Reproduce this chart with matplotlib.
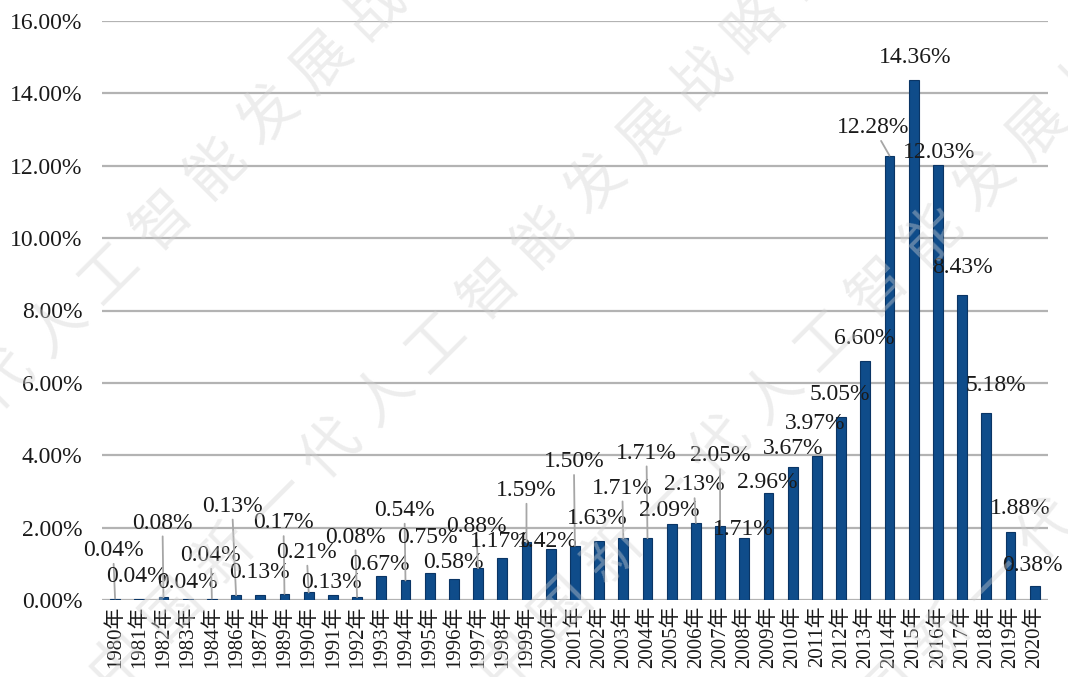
import numpy as np
import matplotlib.pyplot as plt

years = ["1980", "1981", "1982", "1983", "1984", "1986", "1987", "1989", "1990", "1991",
         "1992", "1993", "1994", "1995", "1996", "1997", "1998", "1999", "2000", "2001",
         "2002", "2003", "2004", "2005", "2006", "2007", "2008", "2009", "2010", "2011",
         "2012", "2013", "2014", "2015", "2016", "2017", "2018", "2019", "2020"]
share = [0.04, 0.04, 0.08, 0.04, 0.04, 0.13, 0.13, 0.17, 0.21, 0.13,
         0.08, 0.67, 0.54, 0.75, 0.58, 0.88, 1.17, 1.59, 1.42, 1.50,
         1.63, 1.71, 1.71, 2.09, 2.13, 2.05, 1.71, 2.96, 3.67, 3.97,
         5.05, 6.60, 12.28, 14.36, 12.03, 8.43, 5.18, 1.88, 0.38]

# label offsets from bar top (pixels), the labels were dragged around in the original
lab_dx = [-2, -3, -1, 0, -1, -4, -1, -1, -2, -1,
          -2, -2, -1, -2, -1, -2, -2, 0, -3, -1,
          -2, -1, -1, -2, -2, 0, -1, -1, 0, -2,
          -1, -1, -16, 1, 1, 0, 10, 10, -2]
lab_dy = [48, 22, 74, 16, 43, 89, 23, 71, 40, 13,
          60, 11, 70, 35, 17, 42, 16, 52, 7, 84,
          23, 50, 85, 14, 38, 70, 9, 10, 19, 33,
          23, 23, 28, 23, 12, 27, 27, 23, 21]

watermark = "中国新一代人工智能发展战略研究院"
wm_starts = [(-208, 592), (119, 661), (508, 659), (836, 742)]  # pixel position of first char

serif = ["Liberation Serif", "Noto Sans CJK SC"]
W, H = 1068, 677

fig = plt.figure(figsize=(W / 100, H / 100), dpi=100)
ax = fig.add_axes([102 / W, 77 / H, (1048 - 102) / W, (600 - 21) / H])

x = np.arange(len(years))
ax.bar(x, share, width=0.4, color="#0f4c8a", edgecolor="#0a3565", linewidth=0.8, zorder=3)

for i, v in enumerate(share):
    dx, dy = lab_dx[i], lab_dy[i]
    arrow = None
    if dy >= 37 or abs(dx) > 12:
        arrow = dict(arrowstyle="-", color="#a6a6a6", lw=1.3, shrinkA=0, shrinkB=0)
    ax.annotate(f"{v:.2f}%", xy=(i, v), xytext=(dx, dy), textcoords="offset pixels",
                ha="center", va="center", fontsize=17, family=serif, color="#1a1a1a",
                arrowprops=arrow, zorder=4)

ax.set_xlim(-0.54, 38.55)
ax.set_ylim(0, 16)
ax.set_yticks(np.arange(0, 16.01, 2))
ax.set_yticklabels([f"{t:.2f}%" for t in np.arange(0, 16.01, 2)], family=serif,
                   fontsize=17, color="#1a1a1a")
ax.set_xticks(x)
ax.set_xticklabels([y + "年" for y in years], rotation=90, family=serif,
                   fontsize=15, color="#1a1a1a")
ax.tick_params(axis="both", length=0)
ax.tick_params(axis="y", pad=14)
ax.tick_params(axis="x", pad=4)
for s in ax.spines.values():
    s.set_visible(False)
ax.yaxis.grid(True, color="#b3b3b3", linewidth=1.6)
ax.set_axisbelow(True)

# faint diagonal watermark, one glyph at a time (wide letter spacing)
step = 53
for sx, sy in wm_starts:
    for k, ch in enumerate(watermark):
        px, py = sx + k * step, sy - k * step
        if -40 < px < W + 40 and -40 < py < H + 40:
            fig.text(px / W, 1 - py / H, ch, rotation=45, ha="center", va="center",
                     rotation_mode="anchor", fontsize=42, family="Noto Sans CJK SC",
                     color="#d2d2d2", alpha=0.4, zorder=10)

fig.savefig("out.png", dpi=100)
